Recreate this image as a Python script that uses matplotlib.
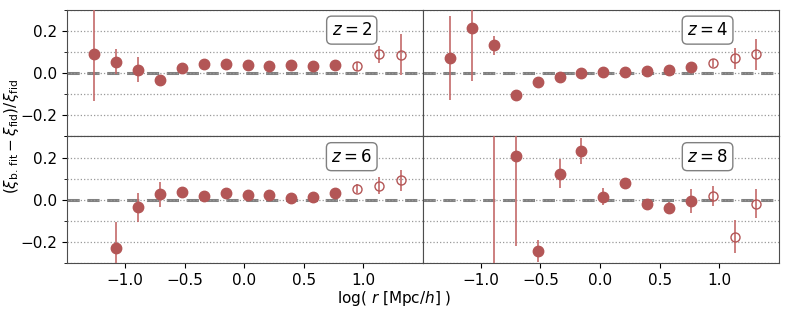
import numpy as np
import matplotlib
matplotlib.use("Agg")
import matplotlib.pyplot as plt
from matplotlib.ticker import MultipleLocator

# log(r) bin centres
logr = [-1.258, -1.074, -0.890, -0.707, -0.523, -0.340, -0.156, 0.028,
        0.211, 0.395, 0.578, 0.762, 0.946, 1.129, 1.313]

# fractional residuals per redshift (nan = off chart)
res_z2 = [0.090, 0.054, 0.017, -0.032, 0.024, 0.043, 0.043, 0.039,
          0.032, 0.041, 0.035, 0.038, 0.033, 0.090, 0.088]
err_z2 = [0.22, 0.06, 0.06, 0.008, 0.006, 0.006, 0.006, 0.006,
          0.006, 0.006, 0.006, 0.006, 0.022, 0.040, 0.098]

res_z4 = [0.073, 0.214, 0.132, -0.104, -0.041, -0.019, 0.003, 0.006,
          0.005, 0.008, 0.013, 0.030, 0.049, 0.071, 0.089]
err_z4 = [0.20, 0.25, 0.044, 0.006, 0.006, 0.006, 0.006, 0.006,
          0.006, 0.006, 0.006, 0.006, 0.020, 0.050, 0.075]

res_z6 = [np.nan, -0.231, -0.037, 0.026, 0.037, 0.016, 0.030, 0.022,
          0.021, 0.008, 0.013, 0.033, 0.053, 0.067, 0.092]
err_z6 = [np.nan, 0.125, 0.070, 0.060, 0.008, 0.008, 0.008, 0.008,
          0.008, 0.008, 0.008, 0.008, 0.020, 0.040, 0.050]

res_z8 = [np.nan, np.nan, -0.45, 0.209, -0.244, 0.124, 0.231, 0.014,
          0.081, -0.021, -0.038, -0.008, 0.018, -0.175, -0.019]
err_z8 = [np.nan, np.nan, 0.80, 0.43, 0.053, 0.067, 0.060, 0.040,
          0.012, 0.015, 0.025, 0.057, 0.047, 0.078, 0.068]

labels = ["$z=2$", "$z=4$", "$z=6$", "$z=8$"]
n_fit = 12  # first 12 bins used in the fit (filled), rest open

mcol = "#b35656"
ecol = "#c46a6a"

fig, axes = plt.subplots(2, 2, figsize=(7.89, 3.09), dpi=100, sharex=True, sharey=True)
fig.subplots_adjust(left=0.085, right=0.987, top=0.968, bottom=0.149, wspace=0, hspace=0)

data = [(res_z2, err_z2), (res_z4, err_z4), (res_z6, err_z6), (res_z8, err_z8)]
x = np.array(logr)
for k, ax in enumerate(axes.flat):
    y = np.array(data[k][0])
    e = np.array(data[k][1])
    ax.axhline(0, color="gray", ls=(0, (4, 2.5)), lw=2.2, zorder=1)
    # filled points
    ax.errorbar(x[:n_fit], y[:n_fit], yerr=e[:n_fit], fmt="o", ms=7.5,
                color=mcol, ecolor=ecol, elinewidth=1.2, capsize=0, zorder=3)
    # open points
    ax.errorbar(x[n_fit:], y[n_fit:], yerr=e[n_fit:], fmt="o", ms=6.5,
                mfc="none", mec=mcol, mew=1.0, ecolor=ecol, elinewidth=1.2,
                capsize=0, zorder=3)
    ax.set_xlim(-1.487, 1.5)
    ax.set_ylim(-0.3, 0.3)
    ax.yaxis.set_major_locator(MultipleLocator(0.2))
    ax.yaxis.set_minor_locator(MultipleLocator(0.1))
    ax.xaxis.set_major_locator(MultipleLocator(0.5))
    ax.grid(True, which="both", axis="y", ls=":", color="0.6", lw=0.9)
    ax.text(0.8, 0.84, labels[k], transform=ax.transAxes, fontsize=12,
            ha="center", va="center",
            bbox=dict(boxstyle="round,pad=0.3", fc="white", ec="0.5"))
    for s in ax.spines.values():
        s.set_color("0.3")
    ax.tick_params(labelsize=11)
    ax.set_xticks([-1.0, -0.5, 0.0, 0.5, 1.0])
    if k % 2 == 1:
        ax.tick_params(axis="y", which="both", left=False, labelleft=False)
    if k < 2:
        ax.tick_params(axis="x", bottom=False)

fig.text(0.5, 0.02, r"log( $r$ [Mpc/$h$] )", ha="center", fontsize=11)
fig.text(0.015, 0.56, r"$(\xi_{\rm b.\,fit}-\xi_{\rm fid})/\xi_{\rm fid}$",
         rotation=90, va="center", ha="center", fontsize=11)

fig.savefig("out.png", dpi=100)
